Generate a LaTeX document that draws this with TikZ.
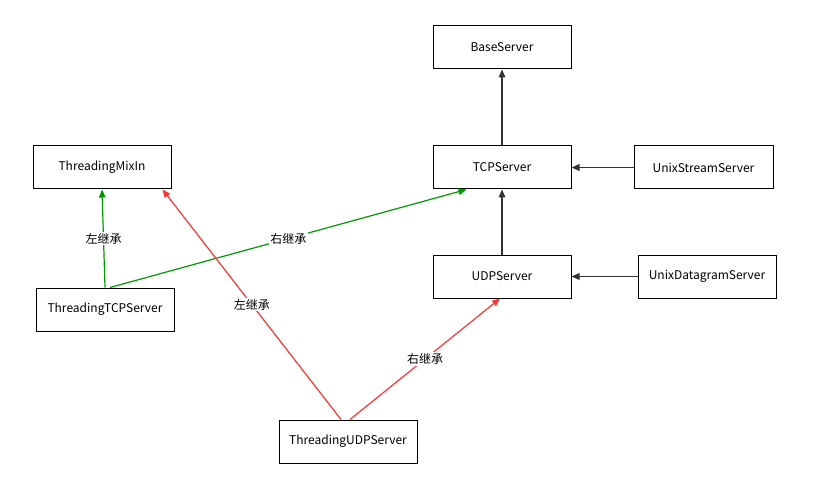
\documentclass[tikz,border=0pt]{standalone}
\usepackage{fontspec}
\setmainfont{Noto Sans CJK SC}
\usetikzlibrary{arrows.meta,calc}

\definecolor{lineblack}{RGB}{51,51,51}
\definecolor{linegreen}{RGB}{0,153,0}
\definecolor{linered}{RGB}{255,51,51}

\tikzset{
  classbox/.style={draw=black, line width=0.75pt, minimum width=103.5pt, minimum height=32.25pt, inner sep=0.75pt, font=\fontsize{9}{11}\selectfont},
  inherit/.style={line width=0.9pt, -{Triangle[length=6pt,width=5pt]}},
  edgelabel/.style={fill=white, inner sep=1pt, font=\fontsize{9}{11}\selectfont, text=black},
}

\begin{document}
\begin{tikzpicture}[x=0.75pt,y=0.75pt,yscale=-1,xscale=1]
\useasboundingbox (0,0) rectangle (816,477);

%Boxes
\node [classbox] (base) at (502,47.5) {BaseServer};
\node [classbox] (mixin) at (102,167.5) {ThreadingMixIn};
\node [classbox] (tcp) at (502,167.5) {TCPServer};
\node [classbox, minimum width=104.25pt] (unixstream) at (703.5,167.5) {UnixStreamServer};
\node [classbox] (udp) at (502,276.5) {UDPServer};
\node [classbox] (unixdgram) at (707,276.5) {UnixDatagramServer};
\node [classbox] (ttcp) at (105,309.5) {ThreadingTCPServer};
\node [classbox] (tudp) at (348,441.5) {ThreadingUDPServer};

%Straight Lines
\draw [inherit, lineblack] (tcp) -- (base);
\draw [inherit, lineblack] (unixstream) -- (tcp);
\draw [inherit, lineblack] (udp) -- (tcp);
\draw [inherit, lineblack] (unixdgram) -- (udp);

%Green Lines
\draw [inherit, linegreen] (ttcp.north) -- (mixin.south) node [midway, edgelabel] {左继承};
\draw [inherit, linegreen] ($(ttcp.north)+(5,0)$) -- ($(tcp.south west)+(34,0)$) node [midway, edgelabel] {右继承};

%Red Lines
\draw [inherit, linered] ($(tudp.north)+(-7,0)$) -- ($(mixin.south east)+(-9,0)$) node [midway, edgelabel] {左继承};
\draw [inherit, linered] ($(tudp.north)+(2,0)$) -- ($(udp.south)+(-2,0)$) node [midway, edgelabel] {右继承};

\end{tikzpicture}
\end{document}
